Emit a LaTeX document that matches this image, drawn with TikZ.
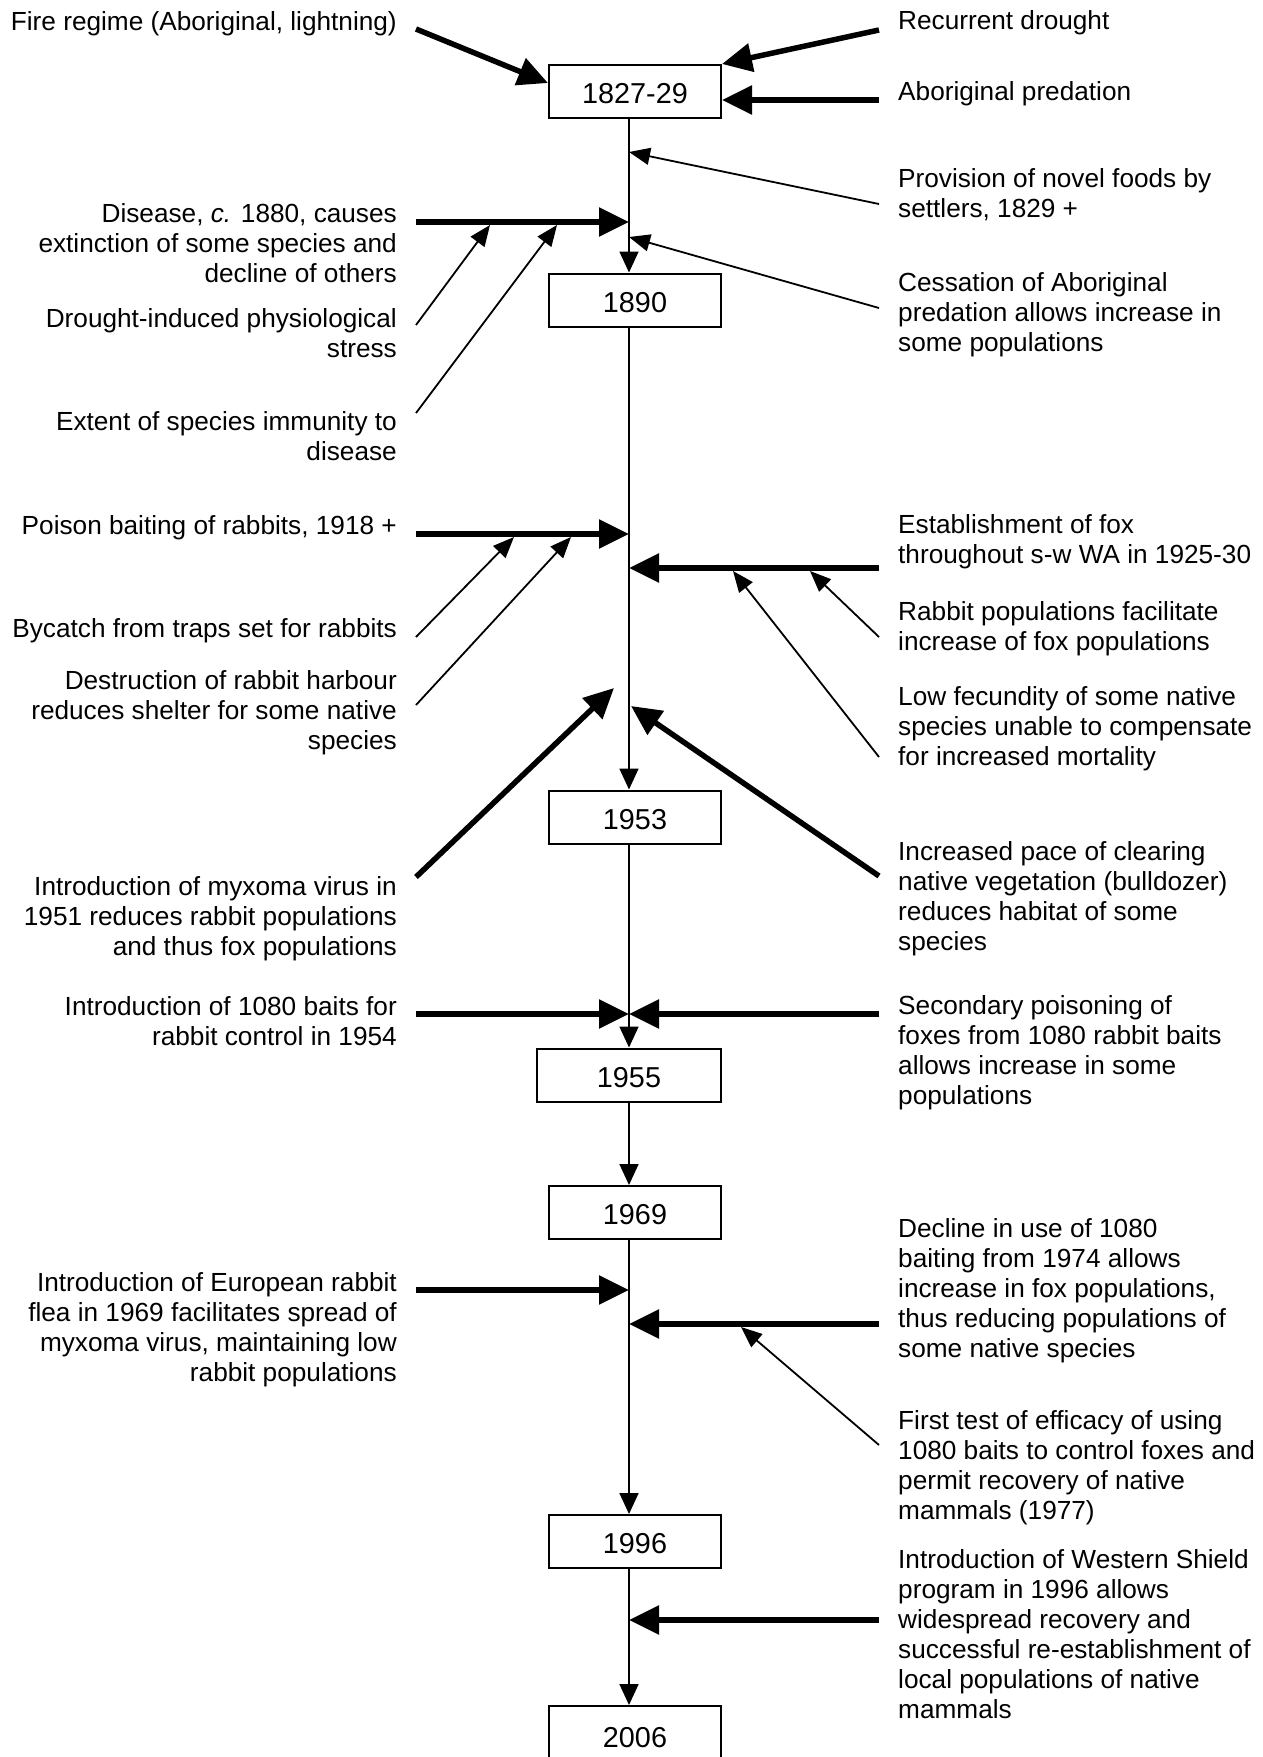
\documentclass[tikz,border=0pt]{standalone}
\usepackage{fontspec}
\setmainfont{Liberation Sans}
\usetikzlibrary{arrows.meta}
\newcommand\yrtext[1]{\raisebox{-2pt}[\height][0pt]{#1}}
\begin{document}
\begin{tikzpicture}[x=1pt,y=-1pt,
  lbl/.style={font=\fontsize{26.2}{30}\selectfont, inner sep=0pt},
  ltxt/.style={lbl, align=right, anchor=north east, yshift=-2pt},
  rtxt/.style={lbl, align=left, anchor=north west, yshift=-2pt},
  yearbox/.style={draw, line width=2pt, minimum width=172pt, minimum height=53pt, inner sep=0pt, font=\fontsize{28.8}{30}\selectfont},
  bigarrow/.style={line width=5.5pt, -{Triangle[length=30pt,width=28pt]}},
  smallarrow/.style={line width=1.8pt, -{Triangle[length=21pt,width=17pt]}},
  axisarrow/.style={line width=1.8pt, -{Triangle[length=21pt,width=19pt]}}
]
\useasboundingbox (0,0) rectangle (1263,1757);

% ---- year boxes
\node[yearbox] (b1) at (635,91.5) {\yrtext{1827-29}};
\node[yearbox] (b2) at (635,300) {\yrtext{1890}};
\node[yearbox] (b3) at (635,817) {\yrtext{1953}};
\node[yearbox, minimum width=184pt] (b4) at (629,1075) {\yrtext{1955}};
\node[yearbox] (b5) at (635,1212.5) {\yrtext{1969}};
\node[yearbox] (b6) at (635,1541.5) {\yrtext{1996}};
\begin{scope}
\clip (0,0) rectangle (1263,1757);
\node[yearbox, minimum height=58pt] (b7) at (635,1735) {\yrtext{2006}};
\end{scope}

% ---- axis
\coordinate (ax) at (629,0);
\draw[axisarrow] (b1.south -| ax) -- (b2.north -| ax);
\draw[axisarrow] (b2.south -| ax) -- (b3.north -| ax);
\draw[axisarrow] (b3.south -| ax) -- (b4.north -| ax);
\draw[axisarrow] (b4.south -| ax) -- (b5.north -| ax);
\draw[axisarrow] (b5.south -| ax) -- (b6.north -| ax);
\draw[axisarrow] (b6.south -| ax) -- (b7.north -| ax);

% ---- left labels
\node[ltxt] (fire) at (397,7) {\strut Fire regime (Aboriginal, lightning)};
\node[ltxt] (disease) at (397,199) {\strut Disease, \textit{c.} 1880, causes\\extinction of some species and\\decline of others};
\node[ltxt] (drought) at (397,304) {\strut Drought-induced physiological\\stress};
\node[ltxt] (immunity) at (397,407) {\strut Extent of species immunity to\\disease};
\node[ltxt] (poison) at (397,511) {\strut Poison baiting of rabbits, 1918 +};
\node[ltxt] (bycatch) at (397,614) {\strut Bycatch from traps set for rabbits};
\node[ltxt] (harbour) at (397,666) {\strut Destruction of rabbit harbour\\reduces shelter for some native\\species};
\node[ltxt] (myxoma) at (397,872) {\strut Introduction of myxoma virus in\\1951 reduces rabbit populations\\and thus fox populations};
\node[ltxt] (baits) at (397,992) {\strut Introduction of 1080 baits for\\rabbit control in 1954};
\node[ltxt] (flea) at (397,1268) {\strut Introduction of European rabbit\\flea in 1969 facilitates spread of\\myxoma virus, maintaining low\\rabbit populations};

% ---- right labels
\node[rtxt] (recurrent) at (898,6) {\strut Recurrent drought};
\node[rtxt] (predation) at (898,77) {\strut Aboriginal predation};
\node[rtxt] (novel) at (898,164) {\strut Provision of novel foods by\\settlers, 1829 +};
\node[rtxt] (cessation) at (898,268) {\strut Cessation of Aboriginal\\predation allows increase in\\some populations};
\node[rtxt] (fox) at (898,510) {\strut Establishment of fox\\throughout s-w WA in 1925-30};
\node[rtxt] (rabbitpop) at (898,597) {\strut Rabbit populations facilitate\\increase of fox populations};
\node[rtxt] (fecundity) at (898,682) {\strut Low fecundity of some native\\species unable to compensate\\for increased mortality};
\node[rtxt] (clearing) at (898,837) {\strut Increased pace of clearing\\native vegetation (bulldozer)\\reduces habitat of some\\species};
\node[rtxt] (secondary) at (898,991) {\strut Secondary poisoning of\\foxes from 1080 rabbit baits\\allows increase in some\\populations};
\node[rtxt] (decline) at (898,1214) {\strut Decline in use of 1080\\baiting from 1974 allows\\increase in fox populations,\\thus reducing populations of\\some native species};
\node[rtxt] (firsttest) at (898,1406) {\strut First test of efficacy of using\\1080 baits to control foxes and\\permit recovery of native\\mammals (1977)};
\node[rtxt] (shield) at (898,1545) {\strut Introduction of Western Shield\\program in 1996 allows\\widespread recovery and\\successful re-establishment of\\local populations of native\\mammals};

% ---- coordinates for connector ends
\coordinate (fireS) at (416,29);
\coordinate (recS) at (879,30);
\coordinate (predS) at (879,100);
\coordinate (novelS) at (879,204);
\coordinate (novelT) at (629,152);
\coordinate (disS) at (416,222);
\coordinate (disT) at (629,222);
\coordinate (cessS) at (879,308);
\coordinate (cessT) at (629,237);
\coordinate (drS) at (416,325);
\coordinate (drT) at (490,225);
\coordinate (imS) at (416,413);
\coordinate (imT) at (557,225);
\coordinate (poS) at (416,534);
\coordinate (poT) at (629,534);
\coordinate (byS) at (416,637);
\coordinate (byT) at (514,537);
\coordinate (haS) at (416,705);
\coordinate (haT) at (571,537);
\coordinate (foS) at (879,568);
\coordinate (foT) at (629,568);
\coordinate (rpS) at (879,637);
\coordinate (rpT) at (810,571);
\coordinate (feS) at (879,757);
\coordinate (feT) at (733,571);
\coordinate (myS) at (416,877);
\coordinate (myT) at (614,688);
\coordinate (clS) at (879,876);
\coordinate (clT) at (631,706);
\coordinate (baS) at (416,1014);
\coordinate (seS) at (879,1014);
\coordinate (baT) at (629,1014);
\coordinate (flS) at (416,1290);
\coordinate (flT) at (629,1290);
\coordinate (deS) at (879,1324);
\coordinate (deT) at (629,1324);
\coordinate (ftS) at (879,1445);
\coordinate (ftT) at (741,1327);
\coordinate (wsS) at (879,1620);
\coordinate (wsT) at (629,1620);

% ---- thick connectors
\draw[bigarrow] (fireS) -- ([yshift=8.5pt]b1.west);
\draw[bigarrow] (recS) -- (b1.north east);
\draw[bigarrow] (predS) -- ([yshift=-8.5pt]b1.east);
\draw[bigarrow] (disS) -- (disT);
\draw[bigarrow] (poS) -- (poT);
\draw[bigarrow] (foS) -- (foT);
\draw[bigarrow] (myS) -- (myT);
\draw[bigarrow] (clS) -- (clT);
\draw[bigarrow] (baS) -- (baT);
\draw[bigarrow] (seS) -- (baT);
\draw[bigarrow] (flS) -- (flT);
\draw[bigarrow] (deS) -- (deT);
\draw[bigarrow] (wsS) -- (wsT);

% ---- thin connectors
\draw[smallarrow] (novelS) -- (novelT);
\draw[smallarrow] (cessS) -- (cessT);
\draw[smallarrow] (drS) -- (drT);
\draw[smallarrow] (imS) -- (imT);
\draw[smallarrow] (byS) -- (byT);
\draw[smallarrow] (haS) -- (haT);
\draw[smallarrow] (rpS) -- (rpT);
\draw[smallarrow] (feS) -- (feT);
\draw[smallarrow] (ftS) -- (ftT);
\end{tikzpicture}
\end{document}
